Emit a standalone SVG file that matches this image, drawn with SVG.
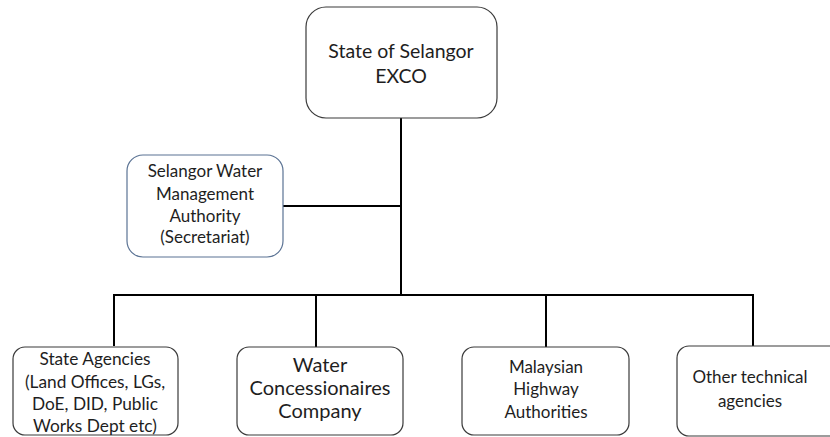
<svg xmlns="http://www.w3.org/2000/svg" width="830" height="437" viewBox="0 0 830 437">
<style>
.box{fill:#fff;stroke:#3a3a3a;stroke-width:1.2}
.blue{stroke:#5b7394}
.t{font-family:Lato,"Open Sans",sans-serif;fill:#1e1e1e;text-anchor:middle}
.xl{font-size:20px}
.lg{font-size:19.5px}
.md{font-size:17.3px}
.sm{font-size:17px}
.con{stroke:#000;stroke-width:2;fill:none}
</style>
<rect width="830" height="437" fill="#fff"/>
<g id="connectors">
<line class="con" x1="401" y1="118" x2="401" y2="295"/>
<line class="con" x1="283" y1="206" x2="401" y2="206"/>
<line class="con" x1="113" y1="295" x2="754" y2="295"/>
<line class="con" x1="114" y1="294" x2="114" y2="346"/>
<line class="con" x1="316" y1="294" x2="316" y2="347"/>
<line class="con" x1="546" y1="294" x2="546" y2="347"/>
<line class="con" x1="753" y1="294" x2="753" y2="346"/>
</g>
<g id="exco">
<rect class="box" x="306" y="7" width="191" height="111" rx="20"/>
<text class="t lg" x="401" y="58">State of Selangor</text>
<text class="t lg" x="401" y="83">EXCO</text>
</g>
<g id="swma">
<rect class="box blue" x="127" y="155" width="156" height="102" rx="16"/>
<text class="t sm" x="205" y="177">Selangor Water</text>
<text class="t sm" x="205" y="200">Management</text>
<text class="t sm" x="205" y="222">Authority</text>
<text class="t sm" x="205" y="243">(Secretariat)</text>
</g>
<g id="state-agencies">
<rect class="box" x="13" y="347" width="165" height="88" rx="12"/>
<text class="t md" x="95" y="365">State Agencies</text>
<text class="t md" x="95" y="388">(Land Offices, LGs,</text>
<text class="t md" x="95" y="410">DoE, DID, Public</text>
<text class="t md" x="95" y="432">Works Dept etc)</text>
</g>
<g id="water-concessionaires">
<rect class="box" x="237" y="347" width="166" height="88" rx="12"/>
<text class="t xl" x="320" y="372">Water</text>
<text class="t xl" x="320" y="395">Concessionaires</text>
<text class="t xl" x="320" y="418">Company</text>
</g>
<g id="highway">
<rect class="box" x="462" y="347" width="167" height="88" rx="12"/>
<text class="t sm" x="546" y="373">Malaysian</text>
<text class="t sm" x="546" y="395">Highway</text>
<text class="t sm" x="546" y="418">Authorities</text>
</g>
<g id="other">
<rect class="box" x="677" y="346" width="170" height="90" rx="12"/>
<text class="t sm" x="750" y="383">Other technical</text>
<text class="t sm" x="750" y="407">agencies</text>
</g>
</svg>
